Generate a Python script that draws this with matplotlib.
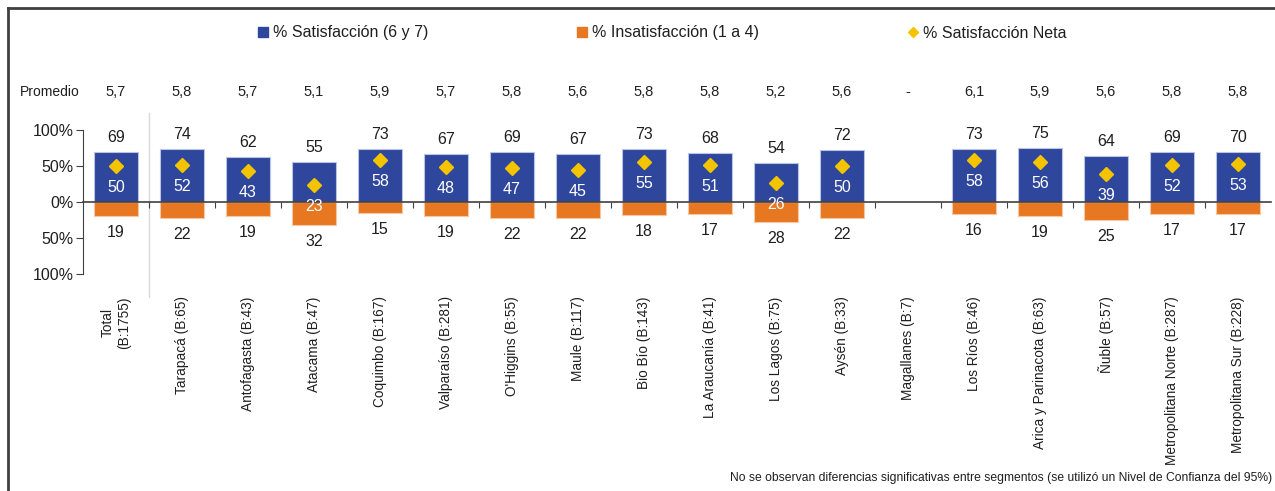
import numpy as np
import matplotlib
matplotlib.use('Agg')
import matplotlib.pyplot as plt
from matplotlib.lines import Line2D

plt.rcParams['font.family'] = ['Liberation Sans', 'DejaVu Sans']

# datos
categorias = ['Total\n(B:1755)', 'Tarapacá (B:65)', 'Antofagasta (B:43)', 'Atacama (B:47)',
              'Coquimbo (B:167)', 'Valparaíso (B:281)', "O'Higgins (B:55)", 'Maule (B:117)',
              'Bio Bío (B:143)', 'La Araucanía (B:41)', 'Los Lagos (B:75)', 'Aysén (B:33)',
              'Magallanes (B:7)', 'Los Ríos (B:46)', 'Arica y Parinacota (B:63)', 'Ñuble (B:57)',
              'Metropolitana Norte (B:287)', 'Metropolitana Sur (B:228)']
satisfaccion = [69, 74, 62, 55, 73, 67, 69, 67, 73, 68, 54, 72, np.nan, 73, 75, 64, 69, 70]
insatisfaccion = [19, 22, 19, 32, 15, 19, 22, 22, 18, 17, 28, 22, np.nan, 16, 19, 25, 17, 17]
neta = [50, 52, 43, 23, 58, 48, 47, 45, 55, 51, 26, 50, np.nan, 58, 56, 39, 52, 53]
promedio = ['5,7', '5,8', '5,7', '5,1', '5,9', '5,7', '5,8', '5,6', '5,8', '5,8', '5,2', '5,6',
            '-', '6,1', '5,9', '5,6', '5,8', '5,8']

AZUL = '#2E469B'
NARANJA = '#E87722'
AMARILLO = '#F5C400'
TEXTO = '#1F1F1F'
EIXO = '#404040'

x = np.arange(len(categorias))
sat = np.array(satisfaccion, dtype=float)
ins = np.array(insatisfaccion, dtype=float)
net = np.array(neta, dtype=float)

fig = plt.figure(figsize=(12.75, 4.91), dpi=100)
ax = fig.add_axes([83 / 1275, 217 / 491, (1271 - 83) / 1275, 144 / 491])

ax.bar(x, sat, width=0.67, color=AZUL, edgecolor='#B8C4E6', linewidth=0.8, zorder=2)
ax.bar(x, -ins, width=0.67, color=NARANJA, edgecolor='#F6C7A3', linewidth=0.8, zorder=2)
ax.plot(x, net, linestyle='none', marker='D', markersize=7, color=AMARILLO, zorder=4)

# rótulos de valores
for i in range(len(x)):
    if np.isnan(sat[i]):
        continue
    ax.annotate(f'{sat[i]:.0f}', (x[i], sat[i]), xytext=(0, 10.5), textcoords='offset points',
                ha='center', va='center', fontsize=11.5, color=TEXTO, annotation_clip=False)
    ax.annotate(f'{net[i]:.0f}', (x[i], net[i]), xytext=(0, -15.5), textcoords='offset points',
                ha='center', va='center', fontsize=11.5, color='white', zorder=5)
    ax.annotate(f'{ins[i]:.0f}', (x[i], -ins[i]), xytext=(0, -12), textcoords='offset points',
                ha='center', va='center', fontsize=11.5, color=TEXTO, annotation_clip=False)

# fila promedio
fig.text(20 / 1275, 1 - 92 / 491, 'Promedio', ha='left', va='center', fontsize=10, color=TEXTO)
for i, p in enumerate(promedio):
    ax.text(x[i], 153, p, ha='center', va='center', fontsize=10.5, color=TEXTO, clip_on=False)

# nombres de categorías
for i, c in enumerate(categorias):
    ax.text(x[i], -131, c, rotation=90, ha='center', va='top', fontsize=9.8, color=TEXTO,
            clip_on=False, multialignment='center')

# separador Total
ax.plot([0.5, 0.5], [124, -132], color='#D9D9D9', linewidth=1, clip_on=False, zorder=1)

ax.set_xlim(-0.5, len(x) - 0.5)
ax.set_ylim(-100, 100)
ax.set_yticks([-100, -50, 0, 50, 100])
ax.set_yticklabels(['100%', '50%', '0%', '50%', '100%'])
ax.tick_params(axis='y', direction='out', length=5, colors=EIXO, labelcolor=TEXTO,
               labelsize=11.5, pad=2)
ax.set_xticks(x[:-1] + 0.5)
ax.set_xticklabels([])
ax.tick_params(axis='x', direction='out', length=4, colors=EIXO)
ax.spines['bottom'].set_position(('data', 0))
ax.spines['bottom'].set_color(EIXO)
ax.spines['bottom'].set_linewidth(1.2)
ax.spines['bottom'].set_zorder(3)
ax.spines['left'].set_color(EIXO)
ax.spines['top'].set_visible(False)
ax.spines['right'].set_visible(False)

# leyenda
manijas = [
    Line2D([], [], linestyle='none', marker='s', markersize=6.5, color=AZUL),
    Line2D([], [], linestyle='none', marker='s', markersize=6.5, color=NARANJA),
    Line2D([], [], linestyle='none', marker='D', markersize=5, color=AMARILLO),
]
fig.legend(manijas, ['% Satisfacción (6 y 7)', '% Insatisfacción (1 a 4)', '% Satisfacción Neta'],
           loc='center', bbox_to_anchor=(0.5195, 1 - 33 / 491), ncol=3, frameon=False,
           fontsize=11.5, handlelength=0.6, handletextpad=0.3, columnspacing=9.35,
           labelcolor=TEXTO)

# nota
fig.text(1272 / 1275, 1 - 478 / 491,
         'No se observan diferencias significativas entre segmentos (se utilizó un Nivel de Confianza del 95%)',
         ha='right', va='center', fontsize=8.75, color=TEXTO)

# marco
fig.add_artist(Line2D([8 / 1275, 8 / 1275], [0, 1 - 8 / 491], color=EIXO, linewidth=2))
fig.add_artist(Line2D([8 / 1275, 1], [1 - 8 / 491, 1 - 8 / 491], color=EIXO, linewidth=2))

fig.savefig('out.png', dpi=100)
